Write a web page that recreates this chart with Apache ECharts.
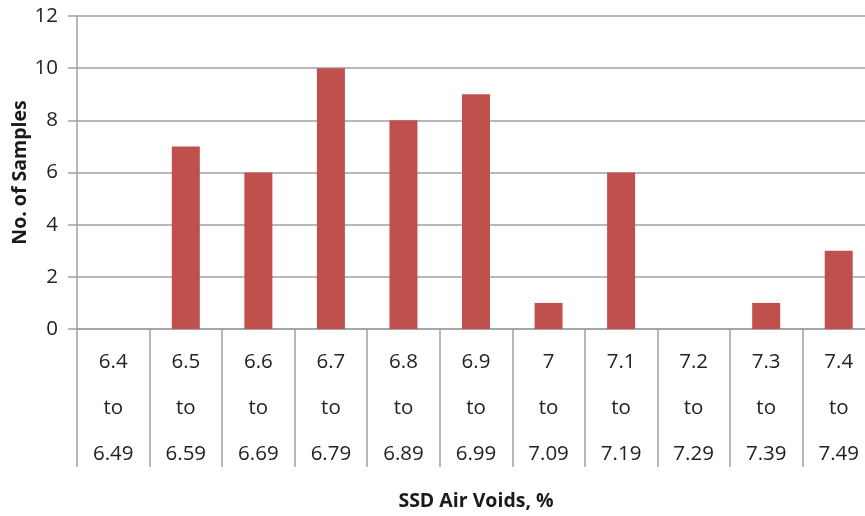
<!DOCTYPE html>
<html>
<head>
<meta charset="utf-8">
<script src="https://cdn.jsdelivr.net/npm/echarts@6/dist/echarts.min.js"></script>
<style>html,body{margin:0;padding:0;background:#fff}#c{width:865px;height:516px}</style>
</head>
<body>
<div id="c"></div>
<script>
const categories = ['6.4\nto\n6.49','6.5\nto\n6.59','6.6\nto\n6.69','6.7\nto\n6.79','6.8\nto\n6.89','6.9\nto\n6.99','7\nto\n7.09','7.1\nto\n7.19','7.2\nto\n7.29','7.3\nto\n7.39','7.4\nto\n7.49'];
const samples = [0, 7, 6, 10, 8, 9, 1, 6, 0, 1, 3];
const yTicks = [0, 2, 4, 6, 8, 10, 12];

const chart = echarts.init(document.getElementById('c'), null, {renderer: 'canvas'});
const font = '"Open Sans", sans-serif';
chart.setOption({
  animation: false,
  backgroundColor: '#fff',
  grid: {left: 77, top: 16, height: 313, width: 798, outerBoundsMode: 'none', containLabel: false},
  xAxis: {
    type: 'category',
    data: categories,
    name: 'SSD Air Voids, %',
    nameLocation: 'middle',
    nameGap: 162,
    nameMoveOverlap: false,
    nameTextStyle: {fontFamily: font, fontWeight: 'bold', fontSize: 19.5, color: '#1a1a1a'},
    axisLine: {lineStyle: {color: '#a0a0a0', width: 1.5}},
    axisTick: {show: true, interval: 0, length: 138, lineStyle: {color: '#a0a0a0', width: 1.5}},
    axisLabel: {interval: 0, margin: 10, fontFamily: font, fontSize: 20.5, lineHeight: 46, color: '#222', align: 'center'}
  },
  yAxis: {
    type: 'value',
    min: 0, max: 12, interval: 2,
    name: 'No. of Samples',
    nameLocation: 'middle',
    nameGap: 47,
    nameMoveOverlap: false,
    nameRotate: 90,
    nameTextStyle: {fontFamily: font, fontWeight: 'bold', fontSize: 19.5, color: '#1a1a1a'},
    axisLine: {show: true, lineStyle: {color: '#a0a0a0', width: 1.5}},
    axisTick: {show: true, inside: false, length: 9, lineStyle: {color: '#a0a0a0', width: 1.5}},
    axisLabel: {margin: 19, fontFamily: font, fontSize: 20.5, color: '#222',
      formatter: v => yTicks.includes(v) ? String(v) : ''},
    splitLine: {show: true, lineStyle: {color: '#a0a0a0', width: 1.5}}
  },
  series: [{
    type: 'bar',
    data: samples,
    barWidth: 28,
    itemStyle: {color: '#C0504D'}
  }]
});
</script>
</body>
</html>
